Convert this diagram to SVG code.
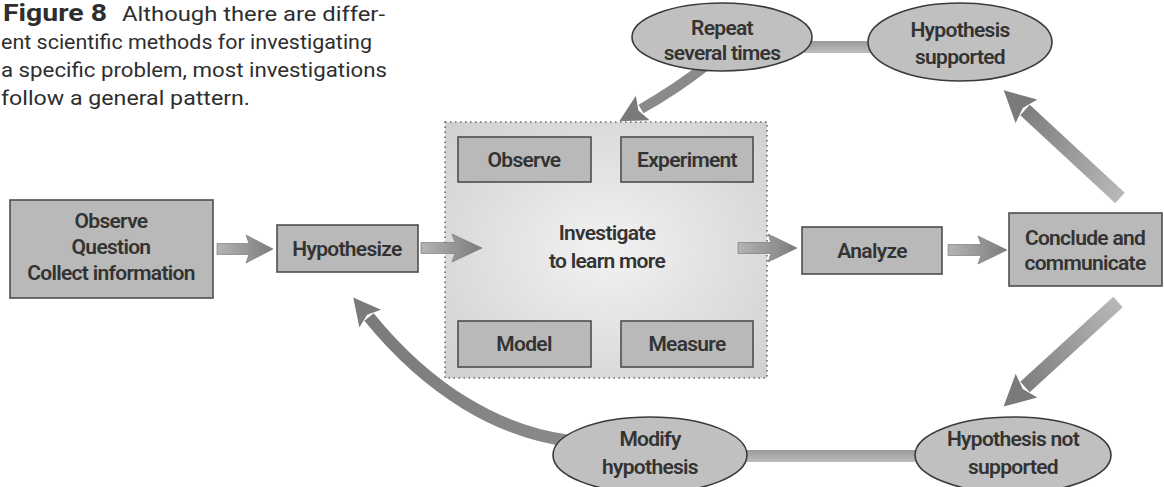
<svg xmlns="http://www.w3.org/2000/svg" width="1164" height="487" viewBox="0 0 1164 487">
<defs>
<style>
.cap{font-family:Roboto,"Liberation Sans",sans-serif;font-size:21px;fill:#2e2e2e}
.capb{font-family:Roboto,"Liberation Sans",sans-serif;font-size:23px;font-weight:700;fill:#2e2e2e}
.lbl{font-family:Roboto,"Liberation Sans",sans-serif;font-size:21px;font-weight:600;fill:#333333;text-anchor:middle;letter-spacing:-0.7px}
.box{fill:#b9b9b9;stroke:#4e4e4e;stroke-width:1.6}
.ell{fill:#c0c0c0;stroke:#3a3a3a;stroke-width:1.6}
.harrow{fill:url(#gH);stroke:#6e6e6e;stroke-width:0.6}
.bar{fill:url(#gBar)}
</style>
<linearGradient id="gH" x1="0" y1="0" x2="1" y2="0">
<stop offset="0" stop-color="#b4b4b4"/><stop offset="1" stop-color="#7c7c7c"/>
</linearGradient>
<linearGradient id="gBar" x1="0" y1="0" x2="0" y2="1">
<stop offset="0" stop-color="#9a9a9a"/><stop offset="1" stop-color="#bdbdbd"/>
</linearGradient>
<radialGradient id="gInv" cx="0.5" cy="0.5" r="0.7">
<stop offset="0" stop-color="#f2f2f2"/><stop offset="1" stop-color="#d0d0d0"/>
</radialGradient>
<linearGradient id="gD1" gradientUnits="userSpaceOnUse" x1="1120" y1="198" x2="1025" y2="110">
<stop offset="0" stop-color="#b8b8b8"/><stop offset="1" stop-color="#7e7e7e"/>
</linearGradient>
<linearGradient id="gD2" gradientUnits="userSpaceOnUse" x1="1118" y1="302" x2="1025" y2="387">
<stop offset="0" stop-color="#b8b8b8"/><stop offset="1" stop-color="#7e7e7e"/>
</linearGradient>
<linearGradient id="gD3" gradientUnits="userSpaceOnUse" x1="565" y1="440" x2="368" y2="316">
<stop offset="0" stop-color="#8a8a8a"/><stop offset="1" stop-color="#7a7a7a"/>
</linearGradient>
<marker id="headL" markerUnits="userSpaceOnUse" markerWidth="34" markerHeight="34" refX="2" refY="17" orient="auto">
<path d="M0,1 L31,17 L0,33 L5,17 z" fill="#7a7a7a"/>
</marker>
<marker id="headS" markerUnits="userSpaceOnUse" markerWidth="30" markerHeight="30" refX="2" refY="15" orient="auto">
<path d="M0,1 L27,15 L0,29 L5,15 z" fill="#7a7a7a"/>
</marker>
</defs>
<rect width="1164" height="487" fill="#ffffff"/>

<g id="caption">
<text class="capb" x="3" y="21" textLength="104" lengthAdjust="spacingAndGlyphs">Figure 8</text>
<text class="cap" x="122" y="21" textLength="263" lengthAdjust="spacingAndGlyphs">Although there are differ-</text>
<text class="cap" x="1" y="49" textLength="371" lengthAdjust="spacingAndGlyphs">ent scientific methods for investigating</text>
<text class="cap" x="1" y="77" textLength="386" lengthAdjust="spacingAndGlyphs">a specific problem, most investigations</text>
<text class="cap" x="1" y="105" textLength="249" lengthAdjust="spacingAndGlyphs">follow a general pattern.</text>
</g>

<g id="investigate-area">
<rect x="445" y="122" width="322" height="256" fill="url(#gInv)" stroke="#6a6a6a" stroke-width="1.6" stroke-dasharray="1.5 3.5"/>
<text class="lbl" x="607" y="240">Investigate</text>
<text class="lbl" x="607" y="268">to learn more</text>
</g>

<g id="connectors">
<polygon class="harrow" points="217,243.5 249,243.5 246,235 273,249 246,263 249,254.5 217,254.5"/>
<polygon class="harrow" points="421,242.5 455,242.5 452,234 482,248 452,262 455,253.5 421,253.5"/>
<polygon class="harrow" points="738,242.5 771,242.5 768,234 797,248 768,262 771,253.5 738,253.5"/>
<polygon class="harrow" points="948,244.5 981,244.5 978,236 1007,250 978,264 981,255.5 948,255.5"/>
<path d="M1120,198 L1025,110" fill="none" stroke="url(#gD1)" stroke-width="14" marker-end="url(#headL)"/>
<path d="M1118,302 L1025,387" fill="none" stroke="url(#gD2)" stroke-width="14" marker-end="url(#headL)"/>
<path d="M708,64 Q678,88 641,109" fill="none" stroke="#8a8a8a" stroke-width="10" marker-end="url(#headS)"/>
<path d="M570,441 C500,432 430,392 369,317" fill="none" stroke="url(#gD3)" stroke-width="12" marker-end="url(#headS)"/>
<rect class="bar" x="800" y="41" width="78" height="12"/>
<rect class="bar" x="740" y="450" width="185" height="12"/>
</g>

<g id="node-start">
<rect class="box" x="10" y="200" width="203" height="98"/>
<text class="lbl" x="111" y="228">Observe</text>
<text class="lbl" x="111" y="254">Question</text>
<text class="lbl" x="111" y="280">Collect information</text>
</g>
<g id="node-hypothesize">
<rect class="box" x="277" y="225" width="141" height="47"/>
<text class="lbl" x="347" y="256">Hypothesize</text>
</g>
<g id="node-observe">
<rect class="box" x="458" y="137" width="133" height="45"/>
<text class="lbl" x="524" y="167">Observe</text>
</g>
<g id="node-experiment">
<rect class="box" x="621" y="137" width="132" height="45"/>
<text class="lbl" x="687" y="167">Experiment</text>
</g>
<g id="node-model">
<rect class="box" x="458" y="321" width="133" height="46"/>
<text class="lbl" x="524" y="351">Model</text>
</g>
<g id="node-measure">
<rect class="box" x="621" y="321" width="132" height="46"/>
<text class="lbl" x="687" y="351">Measure</text>
</g>
<g id="node-analyze">
<rect class="box" x="802" y="227" width="140" height="47"/>
<text class="lbl" x="872" y="258">Analyze</text>
</g>
<g id="node-conclude">
<rect class="box" x="1009" y="213" width="153" height="73"/>
<text class="lbl" x="1085" y="245">Conclude and</text>
<text class="lbl" x="1085" y="270">communicate</text>
</g>
<g id="node-repeat">
<ellipse class="ell" cx="722" cy="37" rx="90" ry="34"/>
<text class="lbl" x="722" y="35">Repeat</text>
<text class="lbl" x="722" y="60">several times</text>
</g>
<g id="node-supported">
<ellipse class="ell" cx="960" cy="42" rx="92" ry="39"/>
<text class="lbl" x="960" y="37">Hypothesis</text>
<text class="lbl" x="960" y="64">supported</text>
</g>
<g id="node-modify">
<ellipse class="ell" cx="650" cy="455" rx="97" ry="38"/>
<text class="lbl" x="650" y="446">Modify</text>
<text class="lbl" x="650" y="474">hypothesis</text>
</g>
<g id="node-not-supported">
<ellipse class="ell" cx="1013" cy="455" rx="98" ry="38"/>
<text class="lbl" x="1013" y="446">Hypothesis not</text>
<text class="lbl" x="1013" y="474">supported</text>
</g>
</svg>
